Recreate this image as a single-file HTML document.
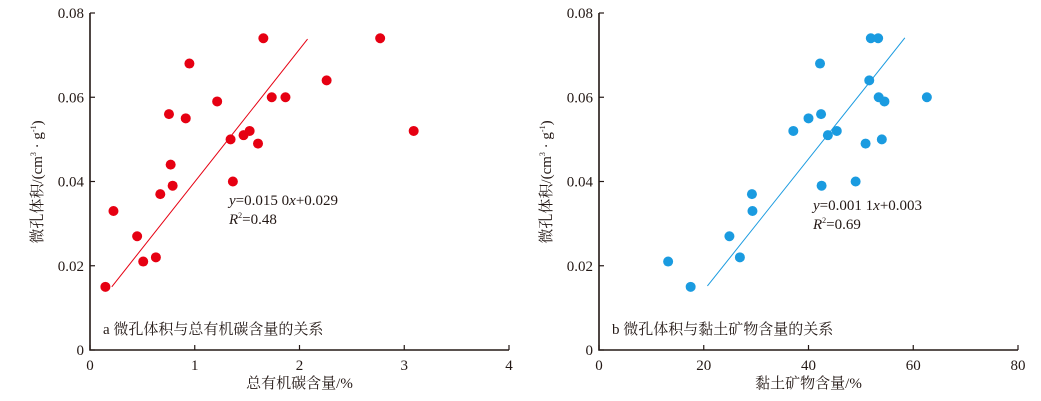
<!DOCTYPE html>
<html><head><meta charset="utf-8"><style>
body{margin:0;background:#fff}
svg{display:block;font-family:"Liberation Serif","Noto Serif CJK SC",serif}
</style></head><body>
<svg id="c" width="1041" height="401"></svg>
<script>
const tocX=[0.147,0.224,0.45,0.508,0.629,0.671,0.754,0.77,0.789,0.914,0.949,1.214,1.342,1.364,1.466,1.524,1.604,1.655,1.735,1.866,2.259,2.77,3.09];
const tocY=[0.015,0.033,0.027,0.021,0.022,0.037,0.056,0.044,0.039,0.055,0.068,0.059,0.050,0.040,0.051,0.052,0.049,0.074,0.060,0.060,0.064,0.074,0.052];
const tocFitX=[0.208,2.077];
const tocFitY=[0.015,0.0738];
const clayX=[13.2,17.5,24.9,26.9,29.2,29.3,37.1,40.0,42.2,42.4,42.5,43.7,45.4,49.0,50.9,51.6,51.9,53.3,53.4,54.0,54.5,62.6];
const clayY=[0.021,0.015,0.027,0.022,0.037,0.033,0.052,0.055,0.068,0.056,0.039,0.051,0.052,0.040,0.049,0.064,0.074,0.074,0.060,0.050,0.059,0.060];
const clayFitX=[20.7,58.4];
const clayFitY=[0.0152,0.0741];
const yTicks=[0,0.02,0.04,0.06,0.08];
const yTickLabels=["0","0.02","0.04","0.06","0.08"];
const tocTicks=[0,1,2,3,4];
const clayTicks=[0,20,40,60,80];

const NS="http://www.w3.org/2000/svg";
const svg=document.getElementById('c');
function el(t,a,p){const e=document.createElementNS(NS,t);for(const k in a)e.setAttribute(k,a[k]);(p||svg).appendChild(e);return e;}

function panel(o){
  const g=el('g',{});
  
  
  const L=o.left,R=o.right,T=13,B=350;
  const sx=v=>L+(v-o.xmin)/(o.xmax-o.xmin)*(R-L);
  const sy=v=>B-(v/0.08)*(B-T);
  const ax=el('path',{d:`M${L},${T} L${L},${B} L${R},${B}`,fill:'none',stroke:'#231815','stroke-width':1.6},g);
  
  
  yTicks.forEach((v,i)=>{
    const y=sy(v);
    const tk=el('line',{x1:L,x2:L+5,y1:y,y2:y,stroke:'#231815','stroke-width':1.2},g);
    
    
    const t=el('text',{x:L-6,y:y+5,'text-anchor':'end','font-size':15,fill:'#231815'},g);
    t.textContent=yTickLabels[i];
    
    
  });
  o.ticks.forEach(v=>{
    const x=sx(v);
    const tk=el('line',{x1:x,x2:x,y1:B,y2:B-5,stroke:'#231815','stroke-width':1.2},g);
    
    
    const t=el('text',{x:x,y:B+20,'text-anchor':'middle','font-size':15,fill:'#231815'},g);
    t.textContent=String(v);
    
    
  });
  const fl=el('line',{x1:sx(o.fx[0]),y1:sy(o.fy[0]),x2:sx(o.fx[1]),y2:sy(o.fy[1]),stroke:o.color,'stroke-width':1},g);
  
  
  o.xs.forEach((v,i)=>{
    const c=el('circle',{cx:sx(v),cy:sy(o.ys[i]),r:5,fill:o.color},g);
    
    
  });
  const eq=el('text',{x:o.eqx,y:o.eqy,'font-size':15,fill:'#231815'},g);
  eq.innerHTML=o.eq;
  
  
  const r2=el('text',{x:o.eqx,y:o.eqy+19,'font-size':15,fill:'#231815'},g);
  r2.innerHTML=o.r2;
  
  
  const pl=el('text',{x:L+13,y:334,'font-size':15,fill:'#231815'},g);
  pl.textContent=o.label;
  
  
  const xt=el('text',{x:(L+R)/2,y:388,'text-anchor':'middle','font-size':15,fill:'#231815'},g);
  xt.textContent=o.xtitle;
  
  
  const yt=el('text',{x:0,y:0,'text-anchor':'middle','font-size':15,fill:'#231815',transform:`translate(${L-48},${182}) rotate(-90)`},g);
  yt.innerHTML='微孔体积/(cm<tspan dy="-6" font-size="8">3</tspan><tspan dy="6"> · g</tspan><tspan dy="-6" font-size="8">-1</tspan><tspan dy="6">)</tspan>';
  
  
}
panel({name:'toc-panel',left:90,right:509,xmin:0,xmax:4,ticks:tocTicks,xs:tocX,ys:tocY,fx:tocFitX,fy:tocFitY,color:'#e60012',
  eqx:229,eqy:205,eq:'<tspan font-style="italic">y</tspan>=0.015 0<tspan font-style="italic">x</tspan>+0.029',
  r2:'<tspan font-style="italic">R</tspan><tspan dy="-6" font-size="8">2</tspan><tspan dy="6">=0.48</tspan>',
  label:'a 微孔体积与总有机碳含量的关系',xtitle:'总有机碳含量/%'});
panel({name:'clay-panel',left:599,right:1018,xmin:0,xmax:80,ticks:clayTicks,xs:clayX,ys:clayY,fx:clayFitX,fy:clayFitY,color:'#1a9be0',
  eqx:813,eqy:210,eq:'<tspan font-style="italic">y</tspan>=0.001 1<tspan font-style="italic">x</tspan>+0.003',
  r2:'<tspan font-style="italic">R</tspan><tspan dy="-6" font-size="8">2</tspan><tspan dy="6">=0.69</tspan>',
  label:'b 微孔体积与黏土矿物含量的关系',xtitle:'黏土矿物含量/%'});
</script>
</body></html>
